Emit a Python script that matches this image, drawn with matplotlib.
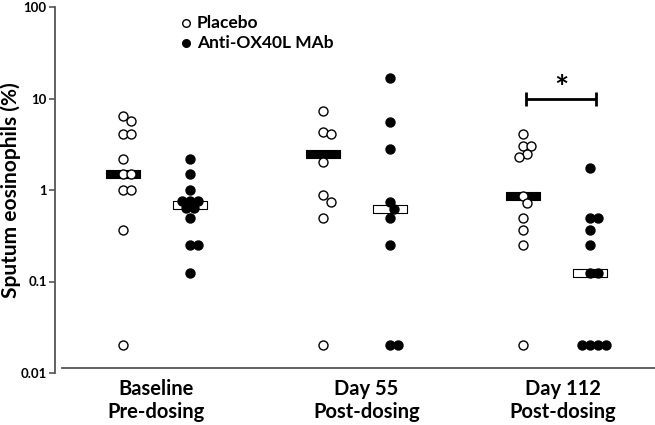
#!/usr/bin/env python3
"""Sputum eosinophils by visit, placebo vs anti-OX40L MAb."""
import matplotlib
matplotlib.use("Agg")
import matplotlib.pyplot as plt
import numpy as np

plt.rcParams["font.family"] = ["Lato", "DejaVu Sans"]
plt.rcParams["font.weight"] = "bold"
plt.rcParams["axes.labelweight"] = "bold"

visits = ["Baseline\nPre-dosing", "Day 55\nPost-dosing", "Day 112\nPost-dosing"]

placebo = [
    [6.5, 5.7, 4.1, 4.1, 2.2, 1.5, 1.5, 1.0, 1.0, 0.37, 0.02],
    [7.3, 4.35, 4.1, 2.0, 0.875, 0.745, 0.49, 0.02],
    [4.1, 3.0, 3.0, 2.46, 2.3, 0.87, 0.73, 0.49, 0.37, 0.25, 0.02],
]
anti = [
    [2.2, 1.5, 1.0, 0.75, 0.75, 0.75, 0.63, 0.63, 0.5, 0.25, 0.25, 0.125],
    [16.6, 5.6, 2.8, 0.745, 0.62, 0.49, 0.25, 0.02, 0.02],
    [1.73, 0.5, 0.5, 0.37, 0.25, 0.125, 0.125, 0.02, 0.02, 0.02, 0.02],
]
placebo_median = [1.5, 2.46, 0.87]
anti_median = [0.68, 0.62, 0.124]

GRAY = "#555555"
BAR = [(-1, -0.23), (1, -0.23), (1, 0.23), (-1, 0.23), (-1, -0.23)]


def swarm_x(ax, values, center, diameter=8.0):
    """Spread points sideways (in pixels) so the markers do not pile up."""
    pts = ax.transData.transform(np.column_stack([np.full(len(values), center), values]))
    ys = pts[:, 1]
    unit = ax.transData.transform((1, 1))[0] - ax.transData.transform((0, 1))[0]
    placed = []
    offsets = []
    for y in ys:
        for k in range(60):
            dx = ((k + 1) // 2) * diameter / 2 * (1 if k % 2 else -1)
            if all((dx - px) ** 2 + (y - py) ** 2 >= diameter ** 2 for px, py in placed):
                break
        placed.append((dx, y))
        offsets.append(dx)
    return center + np.array(offsets) / unit


fig = plt.figure(figsize=(6.55, 4.25), dpi=100)
ax = fig.add_axes([55 / 655, 52 / 425, 600 / 655, 366 / 425])
ax.set_yscale("log")
ax.set_ylim(0.01, 100)
ax.set_xlim(-1.02, 7.98)

centers = np.arange(len(visits)) * 3
for i, c in enumerate(centers):
    ax.plot(c, placebo_median[i], marker=BAR, markersize=24.5, color="black",
            markeredgewidth=0.8, linestyle="none", zorder=2)
    ax.plot(c + 1, anti_median[i], marker=BAR, markersize=24.5, markerfacecolor="white",
            markeredgecolor="black", markeredgewidth=0.8, linestyle="none", zorder=2)
    ax.scatter(swarm_x(ax, placebo[i], c), placebo[i], s=42, facecolor="white",
               edgecolor="black", linewidth=1.0, zorder=3)
    ax.scatter(swarm_x(ax, anti[i], c + 1), anti[i], s=42, facecolor="black",
               edgecolor="black", linewidth=1.0, zorder=3)

# significance bracket for day 112
ax.errorbar([6.55], [10], xerr=[[0.5], [0.55]], fmt="none", ecolor="black",
            elinewidth=2, capsize=5, capthick=2)
ax.text(6.58, 12.5, "*", ha="center", va="center", fontsize=24, fontweight="bold")

ax.set_yticks([0.01, 0.1, 1, 10, 100])
ax.set_yticklabels(["0.01", "0.1", "1", "10", "100"], fontweight="bold")
ax.minorticks_off()
ax.set_xticks([0.5, 3.65, 6.6])
ax.set_xticklabels(visits, linespacing=1.25, fontweight="bold")
ax.tick_params(axis="x", length=0, pad=8, labelsize=14.5)
ax.tick_params(axis="y", length=4, width=1.2, color=GRAY, pad=2, labelsize=9.5)
ax.set_ylabel("Sputum eosinophils (%)", fontsize=15, fontweight="bold")
ax.yaxis.set_label_coords(-0.057, 0.5)

for side in ("top", "right"):
    ax.spines[side].set_visible(False)
ax.spines["left"].set_color(GRAY)
ax.spines["left"].set_linewidth(1.3)
ax.spines["bottom"].set_color(GRAY)
ax.spines["bottom"].set_linewidth(1.3)
ax.spines["bottom"].set_position(("axes", 0.014))
ax.spines["bottom"].set_bounds(-0.91, 7.98)

ax.scatter([], [], s=30, facecolor="white", edgecolor="black", label="Placebo")
ax.scatter([], [], s=30, facecolor="black", edgecolor="black", label="Anti-OX40L MAb")
leg = ax.legend(loc="upper left", bbox_to_anchor=(0.19, 1.003), frameon=False, fontsize=12.5,
                handletextpad=0.1, labelspacing=0.25, borderpad=0, handlelength=1.0)
for t in leg.get_texts():
    t.set_fontweight("bold")

fig.savefig("out.png", dpi=100)
